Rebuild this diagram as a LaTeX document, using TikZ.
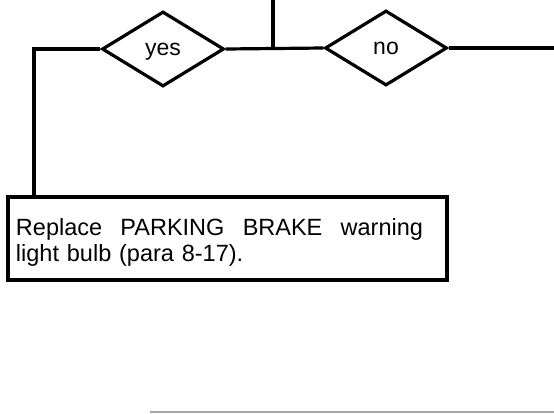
\documentclass[tikz,border=0pt]{standalone}
\usepackage{fontspec}
\setmainfont{Liberation Sans}
\usetikzlibrary{shapes.geometric}
\begin{document}
\begin{tikzpicture}[
    x=1pt, y=-1pt,
    line width=3.2pt, line join=miter,
    choice/.style={draw, diamond, minimum width=122pt, minimum height=75pt, inner sep=0pt, text depth=0pt, font=\fontsize{23}{26}\selectfont},
    action/.style={draw, rectangle, minimum width=439pt, minimum height=83pt, inner xsep=8pt, text width=423pt, text height=25pt, align=left, font=\fontsize{23.5}{26}\selectfont}
]
    \useasboundingbox (0,0) rectangle (554,413);

    % Decision
    \node[choice] (yes) at (163,49) {yes};
    \node[choice] (no) at (386,48) {no};
    \coordinate (in) at (273,0);
    \coordinate (out) at (554,48);
    \coordinate (drop) at (34,198);

    % Action
    \node[action] (fix) at (227.5,238.5) {\makebox[407pt][l]{Replace\hfill PARKING\hfill BRAKE\hfill warning}\\light bulb (para 8-17).};

    % Connectors
    \draw (yes.east) -- (no.west);
    \draw (in) -- (in |- yes.east);
    \draw (no.east) -- (out);
    \draw (yes.west) -| (drop);

    % Page rule
    \draw[gray!70, line width=1.2pt] (150,412) -- (554,412);
\end{tikzpicture}
\end{document}
